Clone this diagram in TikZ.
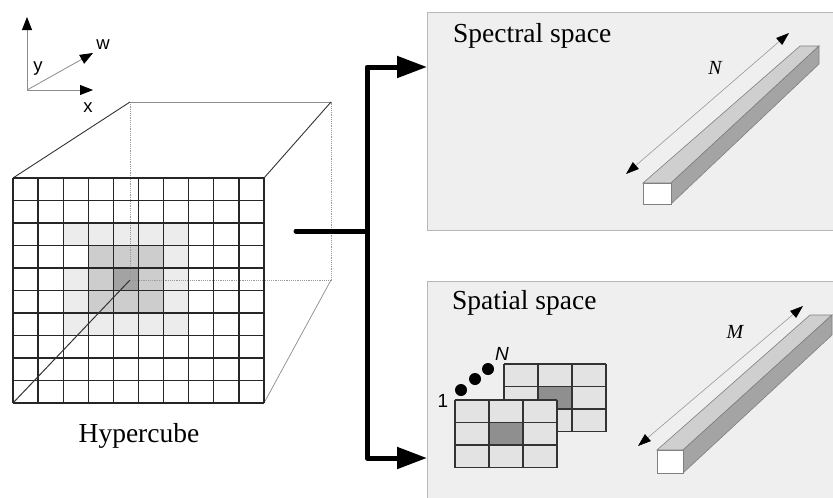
\documentclass[tikz,border=0pt]{standalone}
\usepackage{fontspec}
\setmainfont{Liberation Serif}
\setsansfont{Liberation Sans}
\usetikzlibrary{arrows.meta}
\definecolor{panelfill}{HTML}{EFEFEF}
\definecolor{panelline}{HTML}{B8B8B8}
\definecolor{lightc}{HTML}{ECECEC}
\definecolor{medc}{HTML}{CDCDCD}
\definecolor{darkc}{HTML}{A3A3A3}
\definecolor{cellc}{HTML}{E3E3E3}
\definecolor{celldark}{HTML}{8F8F8F}
\definecolor{topface}{HTML}{CFCFCF}
\definecolor{sideface}{HTML}{A4A4A4}
\newcommand{\hcw}{25.1}
\newcommand{\hch}{22.5}
\newcommand{\hcell}[3]{\fill[#3] ({13+\hcw*#1},{178+\hch*#2}) rectangle ++(\hcw,\hch);}
\newcommand{\smallgridat}[2]{%
  \fill[cellc] (#1,#2) rectangle ++(102,67.5);
  \fill[celldark] ({#1+34},{#2+22.5}) rectangle ++(34,22.5);
  \foreach \k in {0,1,2,3} {
    \draw[smallgrid] ({#1+34*\k},#2) -- ++(0,67.5);
    \draw[smallgrid] (#1,{#2+22.5*\k}) -- ++(102,0);
  }}
\tikzset{
  gridline/.style={draw=black!85, line width=1.3pt},
  hiddenedge/.style={draw=black!40, line width=0.7pt, dash pattern=on 1.2pt off 1pt},
  frontedge/.style={draw=black!80, line width=0.9pt},
  faintedge/.style={draw=black!45, line width=0.7pt},
  panel/.style={fill=panelfill, draw=panelline, line width=1.3pt},
  bigarrow/.style={line width=5pt, line join=round, line cap=round, -{Triangle[length=30pt,width=21pt]}},
  axisarrow/.style={draw=black!45, line width=0.8pt, -{Triangle[length=13pt,width=10pt,color=black]}},
  dimarrow/.style={draw=black!40, line width=0.6pt, {Triangle[length=13pt,width=9pt,color=black]}-{Triangle[length=13pt,width=9pt,color=black]}},
  barline/.style={draw=black!50, line width=0.6pt},
  smallgrid/.style={draw=black!80, line width=1.3pt},
  title/.style={font=\fontsize{27.5}{30}\selectfont, anchor=base west, inner sep=0pt},
  dimlabel/.style={font=\fontsize{20}{22}\selectfont\itshape, inner sep=0pt},
  axislabel/.style={font=\sffamily\fontsize{18.5}{20}\selectfont, inner sep=0pt},
  dot/.style={circle, fill=black, inner sep=0pt, minimum size=12pt}
}
\begin{document}
\begin{tikzpicture}[x=1pt,y=-1pt]
\useasboundingbox (0,0) rectangle (833,498);
\clip (0,0) rectangle (833,498);
\fill[white] (0,0) rectangle (833,498);

% axes
\coordinate (O) at (27,90);
\coordinate (ytip) at (27,17);
\coordinate (xtip) at (93,90);
\coordinate (wtip) at (93,53);
\draw[axisarrow] (O) -- (ytip);
\draw[axisarrow] (O) -- (xtip);
\draw[axisarrow] (O) -- (wtip);
\node[axislabel] (ly) at (38,69) {y};
\node[axislabel] (lx) at (88,108) {x};
\node[axislabel] (lw) at (103,45) {w};

% hypercube shading
\foreach \c in {2,...,6} {\hcell{\c}{2}{lightc}\hcell{\c}{6}{lightc}}
\hcell{6}{3}{lightc}
\hcell{2}{4}{lightc}\hcell{6}{4}{lightc}
\hcell{2}{5}{lightc}\hcell{6}{5}{lightc}
\foreach \c in {3,4,5} {\hcell{\c}{3}{medc}\hcell{\c}{5}{medc}}
\hcell{3}{4}{medc}\hcell{5}{4}{medc}
\hcell{4}{4}{darkc}

\coordinate (ftl) at (13,178);
\coordinate (ftr) at (264,178);
\coordinate (fbr) at (264,403);
\coordinate (fbl) at (13,403);
\coordinate (btl) at (130,102);
\coordinate (btr) at (331,102);
\coordinate (bbr) at (331,280);
\coordinate (bbl) at (130,280);

\draw[hiddenedge] (btl) -- (bbl) -- (bbr) -- (btr);
\draw[faintedge] (btl) -- (btr);
\draw[faintedge] (fbr) -- (bbr);
\draw[frontedge] (ftl) -- (btl);
\draw[frontedge] (ftr) -- (btr);

\foreach \i in {0,...,10} {
  \draw[gridline] ({13+\hcw*\i},178) -- ({13+\hcw*\i},403);
  \draw[gridline] (13,{178+\hch*\i}) -- (264,{178+\hch*\i});
}
\draw[frontedge, line width=1pt] (fbl) -- (bbl);

\node[font=\fontsize{27.5}{30}\selectfont, anchor=base, inner sep=0pt] (hyper) at (139,442) {Hypercube};

% panels
\node[panel, anchor=north west, minimum width=420pt, minimum height=218pt, inner sep=0pt] (spec) at (427,12) {};
\node[panel, anchor=north west, minimum width=420pt, minimum height=230pt, inner sep=0pt] (spat) at (427,281) {};
\node[title] (spectitle) at (453,42) {Spectral space};
\node[title] (spattitle) at (452,309) {Spatial space};

% thick connector
\coordinate (stub) at (296,231);
\coordinate (junc) at (367,231);
\coordinate (jtop) at (367,67);
\coordinate (jbot) at (367,458);
\draw[line width=5pt, line cap=round] (stub) -- (junc);
\draw[bigarrow] (junc) -- (jtop) -- (spec.west |- jtop);
\draw[bigarrow] (junc) -- (jbot) -- (spat.west |- jbot);

% spectral bar
\coordinate (sfa) at (643,183);
\coordinate (sfb) at (671,183);
\coordinate (sfc) at (671,204);
\coordinate (sba) at (800,46);
\coordinate (sbb) at (819,46);
\coordinate (sbc) at (819,64);
\filldraw[barline, fill=topface] (sfa) -- (sfb) -- (sbb) -- (sba) -- cycle;
\filldraw[barline, fill=sideface] (sfb) -- (sbb) -- (sbc) -- (sfc) -- cycle;
\filldraw[barline, fill=white] (sfa) rectangle (sfc);
\coordinate (na) at (626,174);
\coordinate (nb) at (789,33);
\draw[dimarrow] (na) -- (nb);
\node[dimlabel] (nlab) at (715,68) {N};

% spatial bar
\coordinate (pfa) at (657,450);
\coordinate (pfb) at (683,450);
\coordinate (pfc) at (683,473);
\coordinate (pba) at (810,315);
\coordinate (pbb) at (832,315);
\coordinate (pbc) at (832,335);
\filldraw[barline, fill=topface] (pfa) -- (pfb) -- (pbb) -- (pba) -- cycle;
\filldraw[barline, fill=sideface] (pfb) -- (pbb) -- (pbc) -- (pfc) -- cycle;
\filldraw[barline, fill=white] (pfa) rectangle (pfc);
\coordinate (ma) at (638,446);
\coordinate (mb) at (803,306);
\draw[dimarrow] (ma) -- (mb);
\node[dimlabel] (mlab) at (735,332) {M};

% small grids
\smallgridat{504}{364}
\smallgridat{455}{400}
\node[dot] (d1) at (461,390) {};
\node[dot] (d2) at (475,379) {};
\node[dot] (d3) at (488,369) {};
\node[inner sep=0pt, font=\sffamily\fontsize{19}{20}\selectfont] (one) at (443,401) {1};
\node[inner sep=0pt, font=\sffamily\itshape\fontsize{19}{20}\selectfont] (nn) at (502,354) {N};
\end{tikzpicture}
\end{document}
